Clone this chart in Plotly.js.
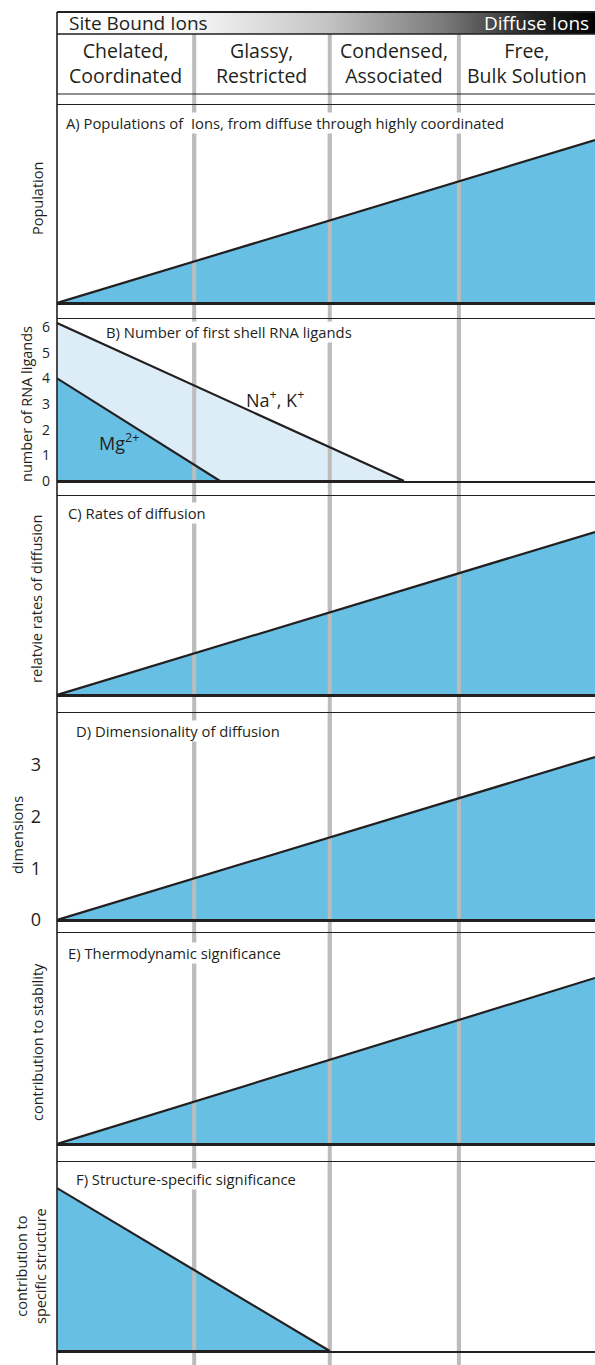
<!DOCTYPE html>
<html><head><meta charset="utf-8">
<script src="https://cdn.plot.ly/plotly-3.0.1.min.js"></script>
<style>html,body{margin:0;padding:0;background:#fff}</style>
</head><body><div id="chart" style="width:595px;height:1365px"></div>
<script>
// ---------- DATA ----------
const categories = ['Chelated,<br>Coordinated', 'Glassy,<br>Restricted', 'Condensed,<br>Associated', 'Free,<br>Bulk Solution'];
const regimeBoundaries = [25.5, 50.7, 74.7];          // position along continuum (0 = coordinated, 100 = bulk)
const headerLeft = 'Site Bound Ions';
const headerRight = 'Diffuse Ions';

const populationX = [0, 100];
const populationY = [0, 0.823];

const naLigandsX = [0, 64.5];
const naLigandsY = [6.15, 0];
const mgLigandsX = [0, 30.3];
const mgLigandsY = [4, 0];
const ligandTicks = [0, 1, 2, 3, 4, 5, 6];

const diffusionX = [0, 100];
const diffusionY = [0, 0.819];

const dimensionX = [0, 100];
const dimensionY = [0, 3.15];
const dimensionTicks = [0, 1, 2, 3];

const thermoX = [0, 100];
const thermoY = [0, 0.787];

const structureX = [0, 50.7];
const structureY = [0.862, 0];

const panelTitles = [
  'A) Populations of  Ions, from diffuse through highly coordinated',
  'B) Number of first shell RNA ligands',
  'C) Rates of diffusion',
  'D) Dimensionality of diffusion',
  'E) Thermodynamic significance',
  'F) Structure-specific significance'
];
const axisTitles = [
  'Population',
  'number of RNA ligands',
  'relatvie rates of diffusion',
  'dimensions',
  'contribution to stability',
  'contribution to<br>specific structure'
];

// ---------- LAYOUT HELPERS ----------
const W = 595, H = 1365, L = 57;
const px2x = p => (p - L) / (W - L);
const px2y = p => 1 - p / H;
const INK = '#231f20', BLUE = '#67bfe3', LIGHT = '#dcedf8', GRAY = '#bcbcbc';
const FONT = 'Open Sans, Noto Sans, sans-serif';

// panel frames (top, baseline) in px, y ranges
const panels = [
  {top: 105, base: 303, range: [0, 1]},
  {top: 319, base: 481, range: [0, 6.31]},
  {top: 496, base: 695, range: [0, 1]},
  {top: 713, base: 920, range: [0, 4.0]},
  {top: 933, base: 1144, range: [0, 1]},
  {top: 1162, base: 1351, range: [0, 1]}
];
const titlePos = [[65, 123], [105, 332], [67, 513], [75, 731], [67, 953], [75, 1179]];
const axisTitlePos = [[37, 199], [26, 404], [36, 599], [17, 835], [37, 1042], [31, 1266]];

const traces = [];
const ax = i => i === 0 ? '' : String(i + 1);

function fillTrace(i, xs, ys, color) {
  traces.push({
    type: 'scatter', mode: 'lines', xaxis: 'x' + ax(i), yaxis: 'y' + ax(i),
    x: [...xs, xs[xs.length - 1], xs[0]], y: [...ys, 0, 0],
    fill: 'toself', fillcolor: color, line: {width: 0}, hoverinfo: 'skip'
  });
}
function grayTrace(i) {
  const r = panels[i].range, x = [], y = [];
  regimeBoundaries.forEach(b => { x.push(b, b, null); y.push(r[0], r[1], null); });
  traces.push({type: 'scatter', mode: 'lines', xaxis: 'x' + ax(i), yaxis: 'y' + ax(i),
    x, y, line: {color: GRAY, width: 4}, hoverinfo: 'skip'});
}
function outlineTrace(i, xs, ys) {
  traces.push({
    type: 'scatter', mode: 'lines', xaxis: 'x' + ax(i), yaxis: 'y' + ax(i),
    x: [...xs, null, xs[0], xs[xs.length - 1]], y: [...ys, null, 0, 0],
    line: {color: INK, width: 2.2}, hoverinfo: 'skip'
  });
}

// A
fillTrace(0, populationX, populationY, BLUE); grayTrace(0); outlineTrace(0, populationX, populationY);
// B
fillTrace(1, naLigandsX, naLigandsY, LIGHT); fillTrace(1, mgLigandsX, mgLigandsY, BLUE); grayTrace(1);
outlineTrace(1, naLigandsX, naLigandsY); outlineTrace(1, mgLigandsX, mgLigandsY);
// C
fillTrace(2, diffusionX, diffusionY, BLUE); grayTrace(2); outlineTrace(2, diffusionX, diffusionY);
// D
fillTrace(3, dimensionX, dimensionY, BLUE); grayTrace(3); outlineTrace(3, dimensionX, dimensionY);
// E
fillTrace(4, thermoX, thermoY, BLUE); grayTrace(4); outlineTrace(4, thermoX, thermoY);
// F
fillTrace(5, structureX, structureY, BLUE); grayTrace(5); outlineTrace(5, structureX, structureY);

// header gradient bar
traces.push({
  type: 'scatter', mode: 'lines', xaxis: 'x7', yaxis: 'y7',
  x: [0, 100, 100, 0, 0], y: [0, 0, 1, 1, 0], fill: 'toself', line: {width: 0},
  fillgradient: {type: 'horizontal', colorscale: [[0, '#ffffff'], [0.25, '#f6f6f6'], [0.5, '#c4c4c4'], [0.72, '#7a7a7a'], [0.88, '#262626'], [1, '#000000']]},
  hoverinfo: 'skip'
});

const layout = {
  width: W, height: H, margin: {l: L, r: 0, t: 0, b: 0},
  paper_bgcolor: '#ffffff', plot_bgcolor: 'rgba(0,0,0,0)',
  showlegend: false, hovermode: false,
  font: {family: FONT, color: INK},
  shapes: [], annotations: []
};

panels.forEach((p, i) => {
  layout['xaxis' + ax(i)] = {
    domain: [0, 1], range: [0, 100], anchor: 'y' + ax(i), showline: true, mirror: true,
    linecolor: INK, linewidth: 1.5, showgrid: false, zeroline: false, showticklabels: false, ticks: '', fixedrange: true
  };
  layout['yaxis' + ax(i)] = {
    domain: [px2y(p.base), px2y(p.top)], range: p.range, anchor: 'x' + ax(i),
    showgrid: false, zeroline: false, showline: false, showticklabels: false, ticks: '', fixedrange: true
  };
});
Object.assign(layout.yaxis2, {showticklabels: true, tickmode: 'array', tickvals: ligandTicks, ticktext: ligandTicks.map(String),
  tickfont: {size: 14, color: INK, family: FONT}, ticklabelstandoff: 6});
Object.assign(layout.yaxis4, {showticklabels: true, tickmode: 'array', tickvals: dimensionTicks, ticktext: dimensionTicks.map(String),
  tickfont: {size: 18, color: INK, family: FONT}, ticklabelstandoff: 15});

layout.xaxis7 = {domain: [0, 1], range: [0, 100], anchor: 'y7', visible: false, fixedrange: true};
layout.yaxis7 = {domain: [px2y(34), px2y(12)], range: [0, 1], anchor: 'x7', visible: false, fixedrange: true};

// gray regime separators through header and gaps
regimeBoundaries.forEach(b => layout.shapes.push({
  type: 'line', xref: 'x', yref: 'paper', x0: b, x1: b, y0: 0, y1: px2y(34),
  line: {color: GRAY, width: 4}, layer: 'below'
}));
// header rules
[[12, 2], [34, 1.5], [94, 1.2]].forEach(([py, w]) => layout.shapes.push({
  type: 'line', xref: 'paper', yref: 'paper', x0: 0, x1: 1, y0: px2y(py), y1: px2y(py),
  line: {color: INK, width: w}, layer: 'above'
}));
// left border
layout.shapes.push({type: 'line', xref: 'paper', yref: 'paper', x0: 0, x1: 0, y0: 0, y1: px2y(12),
  line: {color: INK, width: 1.6}, layer: 'above'});

// header texts
layout.annotations.push({xref: 'paper', yref: 'paper', x: px2x(67), y: px2y(23), xanchor: 'left', yanchor: 'middle',
  text: headerLeft, showarrow: false, font: {size: 19, color: INK}});
layout.annotations.push({xref: 'paper', yref: 'paper', x: px2x(591), y: px2y(23), xanchor: 'right', yanchor: 'middle',
  text: headerRight, showarrow: false, font: {size: 19, color: '#ffffff'}});
const edges = [0, ...regimeBoundaries, 100];
categories.forEach((c, k) => layout.annotations.push({
  xref: 'x7', yref: 'paper', x: (edges[k] + edges[k + 1]) / 2, y: px2y(63), xanchor: 'center', yanchor: 'middle',
  text: c, showarrow: false, font: {size: 19.5, color: INK}
}));

// panel titles
panelTitles.forEach((t, i) => layout.annotations.push({
  xref: 'paper', yref: 'paper', x: px2x(titlePos[i][0]), y: px2y(titlePos[i][1]), xanchor: 'left', yanchor: 'middle',
  text: t, showarrow: false, bgcolor: '#ffffff', borderpad: 0, font: {size: 14.8, color: INK}
}));
// axis titles
axisTitles.forEach((t, i) => layout.annotations.push({
  xref: 'paper', yref: 'paper', x: px2x(axisTitlePos[i][0]), y: px2y(axisTitlePos[i][1]), xanchor: 'center', yanchor: 'middle',
  text: t, textangle: -90, showarrow: false, font: {size: 14.5, color: INK}
}));
// series labels in panel B
layout.annotations.push({xref: 'x2', yref: 'y2', x: px2x(275) * 100, y: 3.2, xanchor: 'center', yanchor: 'middle',
  text: 'Na<sup>+</sup>, K<sup>+</sup>', showarrow: false, font: {size: 18, color: INK}});
layout.annotations.push({xref: 'x2', yref: 'y2', x: px2x(119) * 100, y: 1.5, xanchor: 'center', yanchor: 'middle',
  text: 'Mg<sup>2+</sup>', showarrow: false, font: {size: 18, color: INK}});

Plotly.newPlot('chart', traces, layout, {staticPlot: true, displayModeBar: false});
</script></body></html>
